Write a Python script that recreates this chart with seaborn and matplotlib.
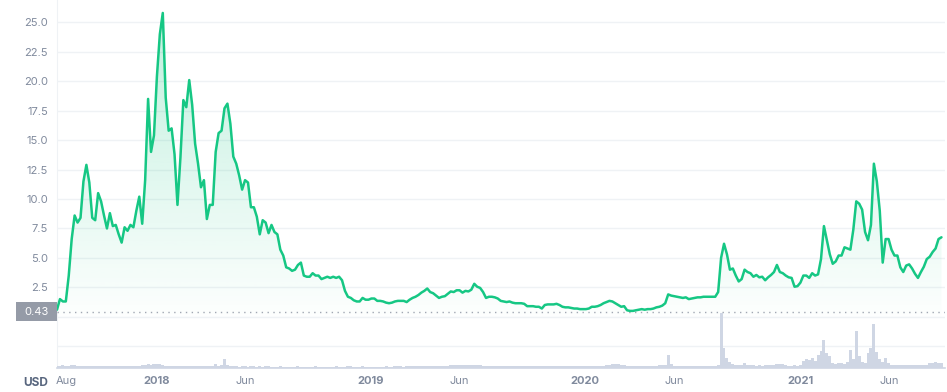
import matplotlib
matplotlib.use('Agg')
import matplotlib.pyplot as plt
import matplotlib.dates as mdates
import matplotlib.transforms as mtransforms
from matplotlib.colors import to_rgb
from matplotlib.patches import Rectangle
import numpy as np
import pandas as pd
import seaborn as sns

# price (USD) read every 5 days from 2017-07-16
start_date = '2017-07-16'
step_days = 5
prices = [
    0.6, 1.5, 1.3, 1.3, 3.5, 6.6, 8.6, 8.0, 8.4, 11.5,
    12.9, 11.4, 8.4, 8.2, 10.5, 9.8, 8.6, 7.5, 8.8, 7.7,
    7.8, 7.0, 6.3, 7.6, 7.3, 7.8, 7.6, 9.0, 10.2, 7.9,
    11.6, 18.5, 14.0, 15.4, 20.4, 24.0, 25.8, 18.6, 15.8, 16.0,
    13.8, 9.5, 13.5, 18.4, 17.8, 20.1, 18.0, 14.7, 13.0, 11.0,
    11.6, 8.3, 9.5, 9.5, 14.0, 15.6, 15.8, 17.7, 18.1, 16.4,
    13.6, 13.0, 12.0, 10.8, 11.6, 11.4, 9.3, 9.3, 8.5, 7.0,
    8.2, 8.0, 7.1, 7.8, 7.2, 7.0, 5.7, 5.2, 4.2, 4.1,
    3.9, 4.0, 4.4, 4.6, 3.5, 3.4, 3.4, 3.7, 3.5, 3.5,
    3.2, 3.3, 3.4, 3.3, 3.4, 3.3, 3.4, 3.1, 2.2, 1.7,
    1.6, 1.4, 1.3, 1.3, 1.6, 1.45, 1.45, 1.55, 1.55, 1.35,
    1.35, 1.3, 1.2, 1.15, 1.2, 1.3, 1.35, 1.35, 1.35, 1.25,
    1.45, 1.6, 1.7, 1.85, 2.05, 2.2, 2.4, 2.1, 2.0, 1.8,
    1.6, 1.7, 1.75, 1.95, 2.15, 2.1, 2.25, 2.25, 2.05, 2.2,
    2.15, 2.3, 2.8, 2.55, 2.45, 2.1, 1.6, 1.7, 1.7, 1.65,
    1.55, 1.35, 1.3, 1.25, 1.3, 1.2, 1.15, 1.15, 1.15, 1.1,
    0.9, 0.9, 0.9, 0.85, 0.85, 0.7, 1.0, 1.05, 1.05, 1.05,
    1.1, 1.0, 0.85, 0.8, 0.8, 0.75, 0.7, 0.7, 0.65, 0.65,
    0.65, 0.7, 0.85, 0.85, 0.9, 1.0, 1.15, 1.25, 1.35, 1.3,
    1.15, 1.0, 0.85, 0.9, 0.55, 0.5, 0.5, 0.55, 0.6, 0.65,
    0.6, 0.65, 0.65, 0.7, 0.8, 0.85, 0.95, 1.15, 1.9, 1.8,
    1.75, 1.7, 1.65, 1.6, 1.65, 1.5, 1.55, 1.6, 1.65, 1.65,
    1.7, 1.7, 1.7, 1.7, 1.7, 2.1, 5.0, 6.2, 5.3, 4.0,
    4.1, 3.5, 3.0, 3.2, 4.0, 3.8, 3.7, 3.4, 3.55, 3.35,
    3.4, 3.1, 3.35, 3.55, 3.8, 4.4, 3.8, 3.7, 3.5, 3.35,
    3.3, 2.55, 2.6, 2.9, 3.5, 3.5, 3.3, 3.7, 3.5, 3.6,
    4.9, 7.7, 6.5, 5.3, 4.5, 4.7, 5.2, 5.2, 5.9, 5.8,
    5.7, 7.4, 9.8, 9.6, 9.1, 7.2, 6.5, 7.8, 13.0, 11.5,
    9.0, 4.6, 6.6, 6.6, 5.7, 5.2, 5.2, 4.2, 3.8, 4.35,
    4.45, 4.1, 3.65, 3.3, 3.8, 4.25, 4.9, 5.1, 5.5, 5.8,
    6.6, 6.75,
]
# traded volume (million USD), same dates
volumes_m = [
    20, 25, 30, 20, 25, 30, 28, 22, 25, 20,
    22, 25, 20, 18, 22, 20, 25, 22, 20, 18,
    20, 22, 18, 20, 22, 25, 20, 22, 25, 28,
    30, 40, 35, 45, 40, 38, 30, 25, 22, 25,
    20, 22, 18, 20, 22, 20, 18, 20, 22, 18,
    20, 18, 20, 25, 40, 25, 30, 95, 30, 22,
    18, 20, 15, 18, 20, 15, 18, 16, 15, 18,
    15, 16, 18, 15, 14, 15, 16, 15, 14, 15,
    15, 14, 16, 15, 14, 15, 14, 15, 16, 14,
    15, 14, 15, 14, 15, 16, 15, 14, 15, 18,
    16, 15, 14, 15, 16, 15, 14, 15, 14, 15,
    14, 15, 16, 14, 15, 16, 18, 16, 15, 16,
    18, 20, 18, 20, 22, 20, 18, 20, 18, 17,
    16, 18, 17, 18, 27, 28, 26, 28, 27, 28,
    27, 28, 30, 28, 27, 22, 20, 18, 20, 18,
    18, 17, 18, 16, 18, 17, 18, 20, 18, 17,
    18, 17, 18, 18, 20, 18, 17, 18, 18, 20,
    18, 17, 18, 17, 18, 17, 18, 20, 18, 20,
    20, 22, 20, 22, 25, 22, 25, 28, 35, 37,
    40, 37, 35, 30, 25, 22, 24, 22, 25, 22,
    25, 22, 24, 25, 22, 28, 30, 35, 130, 40,
    25, 22, 20, 22, 20, 22, 20, 20, 22, 20,
    22, 20, 22, 20, 25, 30, 550, 200, 100, 60,
    40, 30, 30, 30, 50, 30, 28, 30, 25, 28,
    25, 28, 30, 28, 30, 40, 45, 40, 28, 25,
    25, 28, 25, 30, 70, 90, 80, 100, 75, 130,
    170, 280, 150, 120, 50, 45, 50, 55, 45, 60,
    180, 90, 370, 120, 60, 50, 150, 200, 440, 160,
    90, 60, 100, 50, 30, 30, 32, 28, 30, 28,
    30, 28, 30, 28, 30, 32, 30, 50, 55, 60,
    50, 55,
]
tick_dates = ['2017-08-01', '2018-01-01', '2018-06-01', '2019-01-01', '2019-06-01',
              '2020-01-01', '2020-06-01', '2021-01-01', '2021-06-01']
tick_labels = ['Aug', '2018', 'Jun', '2019', 'Jun', '2020', 'Jun', '2021', 'Jun']
price_ticks = [2.5, 5.0, 7.5, 10.0, 12.5, 15.0, 17.5, 20.0, 22.5, 25.0]
start_price = 0.43

green = '#16c784'
label_grey = '#808a9d'

dates = pd.date_range(start_date, periods=len(prices), freq=f'{step_days}D')
df = pd.DataFrame({'date': dates, 'price': prices, 'volume': volumes_m})

sns.set_style('white')
plt.rcParams['font.family'] = ['Inter', 'DejaVu Sans']

fig = plt.figure(figsize=(9.47, 3.92), dpi=100)
ax = fig.add_axes([57 / 947, 24 / 392, 888 / 947, 368 / 392])

sns.lineplot(data=df, x='date', y='price', color=green, linewidth=1.8, ax=ax, zorder=4)

# gradient fill under the line
ymax = 26.9
poly = ax.fill_between(df['date'], df['price'], 0, color='none', linewidth=0)
grad = np.linspace(0, 1, 256).reshape(-1, 1)
rgba = np.zeros((256, 1, 4))
rgba[..., :3] = to_rgb(green)
rgba[..., 3] = 0.01 + 0.27 * grad
xnum = mdates.date2num(df['date'])
img = ax.imshow(rgba, extent=[xnum[0], xnum[-1], 0, ymax], aspect='auto',
                origin='lower', zorder=2, interpolation='bilinear')
img.set_clip_path(poly.get_paths()[0], transform=ax.transData)

ax.axhline(start_price, color='#a1a7b3', linewidth=1, linestyle=(0, (1, 3.2)), zorder=3)

ax.set_xlim(pd.Timestamp('2017-07-16'), pd.Timestamp('2021-09-04'))
ax.set_ylim(-4.35, ymax)
ax.set_yticks([-2.5, 0] + price_ticks)
ax.set_yticklabels(['', ''] + [f'{v:.1f}' for v in price_ticks])
ax.set_xticks(pd.to_datetime(tick_dates))
ax.set_xticklabels(tick_labels)
for lbl, txt in zip(ax.get_xticklabels(), tick_labels):
    if txt.isdigit():
        lbl.set_fontweight('bold')
        lbl.set_color('#6f798c')
ax.set_xlabel('')
ax.set_ylabel('')
ax.grid(axis='y', color='#eff2f5', linewidth=1)
ax.set_axisbelow(True)
ax.tick_params(axis='y', length=0, pad=6.5, labelsize=8, labelcolor=label_grey)
ax.tick_params(axis='x', length=3, width=1, color='#cfd6e4', pad=3, labelsize=8, labelcolor=label_grey)
sns.despine(ax=ax, top=True, right=True)
ax.spines['left'].set_color('#eff2f5')
ax.spines['bottom'].set_color('#cfd6e4')
ax.spines['bottom'].set_linewidth(1.2)

# start price tag
trans = mtransforms.blended_transform_factory(fig.transFigure, ax.transData)
ax.add_artist(Rectangle((16 / 947, start_price - 0.81), 41 / 947, 1.62, transform=trans,
                        facecolor='#959ba7', edgecolor='none', clip_on=False, zorder=5))
ax.text(36.5 / 947, start_price, f'{start_price:.2f}', transform=trans, ha='center', va='center',
        color='white', fontsize=8, clip_on=False, zorder=6)

# volume bars
ax2 = ax.twinx()
ax2.bar(df['date'], df['volume'], width=step_days, color='#cfd6e4', linewidth=0)
ax2.set_ylim(0, 3680)
ax2.axis('off')

fig.text(48 / 947, 9 / 392, 'USD', ha='right', va='center', fontsize=8.5,
         fontweight='bold', color='#58667e')

fig.savefig('out.png', dpi=100)
